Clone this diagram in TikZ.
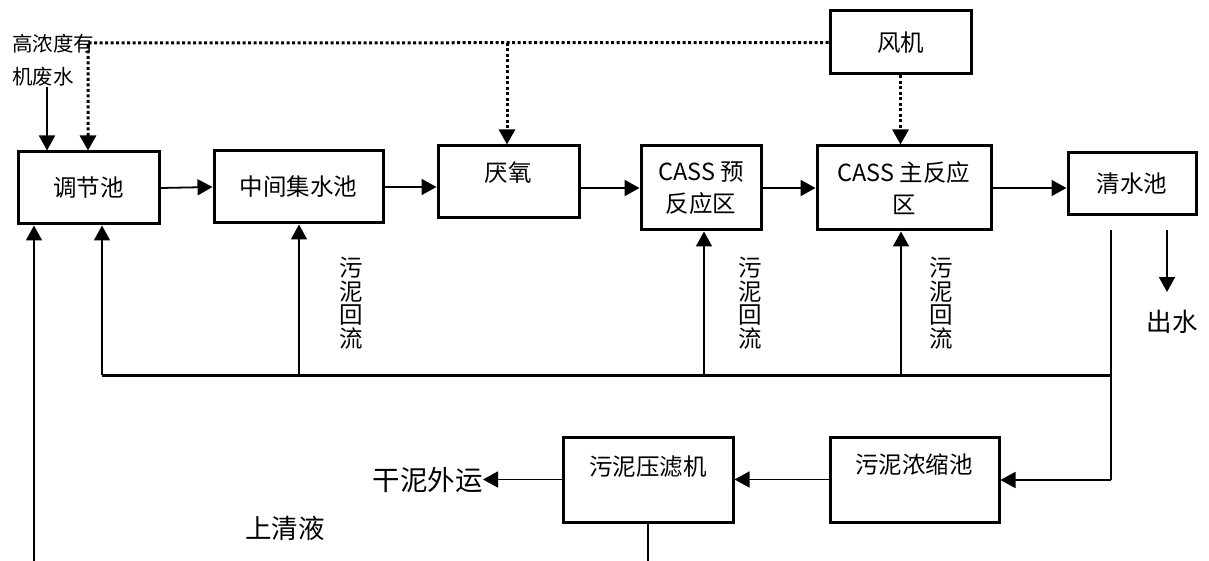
\documentclass[tikz,border=0pt]{standalone}
\usepackage{fontspec}
\setmainfont{Noto Sans CJK SC}
\usetikzlibrary{arrows.meta}
\begin{document}
\begin{tikzpicture}[x=1pt,y=-1pt,
  box/.style={draw, line width=3pt, inner sep=0pt, align=center, font=\fontsize{23.5}{32}\selectfont},
  txt/.style={inner sep=0pt, align=center, font=\fontsize{23.5}{32}\selectfont},
  vlab/.style={inner sep=0pt, align=center, font=\fontsize{23.5}{23.5}\selectfont},
  tip/.style={-{Triangle[width=16pt,length=15pt]}},
  conn/.style={line width=1.8pt, tip},
  plain/.style={line width=1.8pt},
  thickline/.style={line width=3pt},
  dotconn/.style={line width=3pt, dash pattern=on 3pt off 2.5pt, tip}
]
\useasboundingbox (0,0) rectangle (1209,561);

% main boxes
\node[box, minimum width=141pt, minimum height=72pt] (tj) at (88.5,188) {调节池};
\node[box, minimum width=169pt, minimum height=72pt] (zj) at (298.5,187) {中间集水池};
\node[box, minimum width=141pt, minimum height=72pt] (yy) at (508.5,182) {};
\node[txt] (yyt) at (508,173) {厌氧};
\node[box, minimum width=120pt, minimum height=84pt] (cp) at (701,188) {CASS 预\\反应区};
\node[box, minimum width=174pt, minimum height=84pt] (cm) at (904,188) {CASS 主反应\\区};
\node[box, minimum width=128pt, minimum height=62pt] (qs) at (1132,184) {清水池};
\node[box, minimum width=141pt, minimum height=63pt] (fj) at (900.5,42.5) {风机};
\node[box, minimum width=170pt, minimum height=85pt] (yl) at (648,479.5) {};
\node[txt] (ylt) at (648,467) {污泥压滤机};
\node[box, minimum width=169pt, minimum height=85pt] (ns) at (914.5,479.5) {};
\node[txt] (nst) at (914,465) {污泥浓缩池};

% texts
\node[inner sep=0pt, anchor=west, align=left, font=\fontsize{20.5}{33}\selectfont] (src) at (12,60) {高浓度有\\机废水};
\node[vlab] (l1) at (351,303) {污\\泥\\回\\流};
\node[vlab] (l2) at (750,303) {污\\泥\\回\\流};
\node[vlab] (l3) at (941,303) {污\\泥\\回\\流};
\node[inner sep=0pt, font=\fontsize{25.5}{30}\selectfont] (cs) at (1172,322) {出水};
\node[inner sep=0pt, font=\fontsize{26.5}{30}\selectfont] (sq) at (285,528) {上清液};
\node[inner sep=0pt, anchor=east, font=\fontsize{27.5}{30}\selectfont] (gn) at (483,480) {干泥外运};

% coordinates
\coordinate (in1) at (47,87);
\coordinate (d1) at (88,43);
\coordinate (d2) at (507,43);
\coordinate (r1) at (102,375);
\coordinate (r2) at (299,375);
\coordinate (r3) at (704,375);
\coordinate (r4) at (901,375);
\coordinate (rr) at (1111,375);
\coordinate (qsb) at (1111,230);
\coordinate (cn) at (1111,480);
\coordinate (o1) at (1167,230);
\coordinate (o2) at (1167,292);
\coordinate (lb) at (34,561);

% main flow
\draw[conn] (tj.east) -- (zj.west);
\draw[conn] (zj.east) -- (zj.east -| yy.west);
\draw[conn] (yy.east |- cp.west) -- (cp.west);
\draw[conn] (cp.east) -- (cm.west);
\draw[conn] (cm.east) -- (cm.east -| qs.west);
\draw[conn] (o1) -- (o2);
\draw[conn] (in1) -- (in1 |- tj.north);

% air
\draw[dotconn] (fj.west) -- (d1) -- (d1 |- tj.north);
\draw[dotconn] (d2) -- (d2 |- yy.north);
\draw[dotconn] (fj.south) -- (fj.south |- cm.north);

% sludge return
\draw[thickline] (r1) -- (rr);
\draw[plain] (qsb) -- (cn);
\draw[conn] (cn) -- (ns.east |- cn);
\draw[conn] (r1) -- (r1 |- tj.south);
\draw[conn] (r2) -- (r2 |- zj.south);
\draw[conn] (r3) -- (r3 |- cp.south);
\draw[conn] (r4) -- (r4 |- cm.south);
\draw[conn] (ns.west) -- (yl.east);
\draw[conn] (yl.west) -- (yl.west -| gn.east);
\draw[plain] (yl.south) -- (yl.south |- lb);
\draw[conn] (lb) -- (lb |- tj.south);
\end{tikzpicture}
\end{document}
